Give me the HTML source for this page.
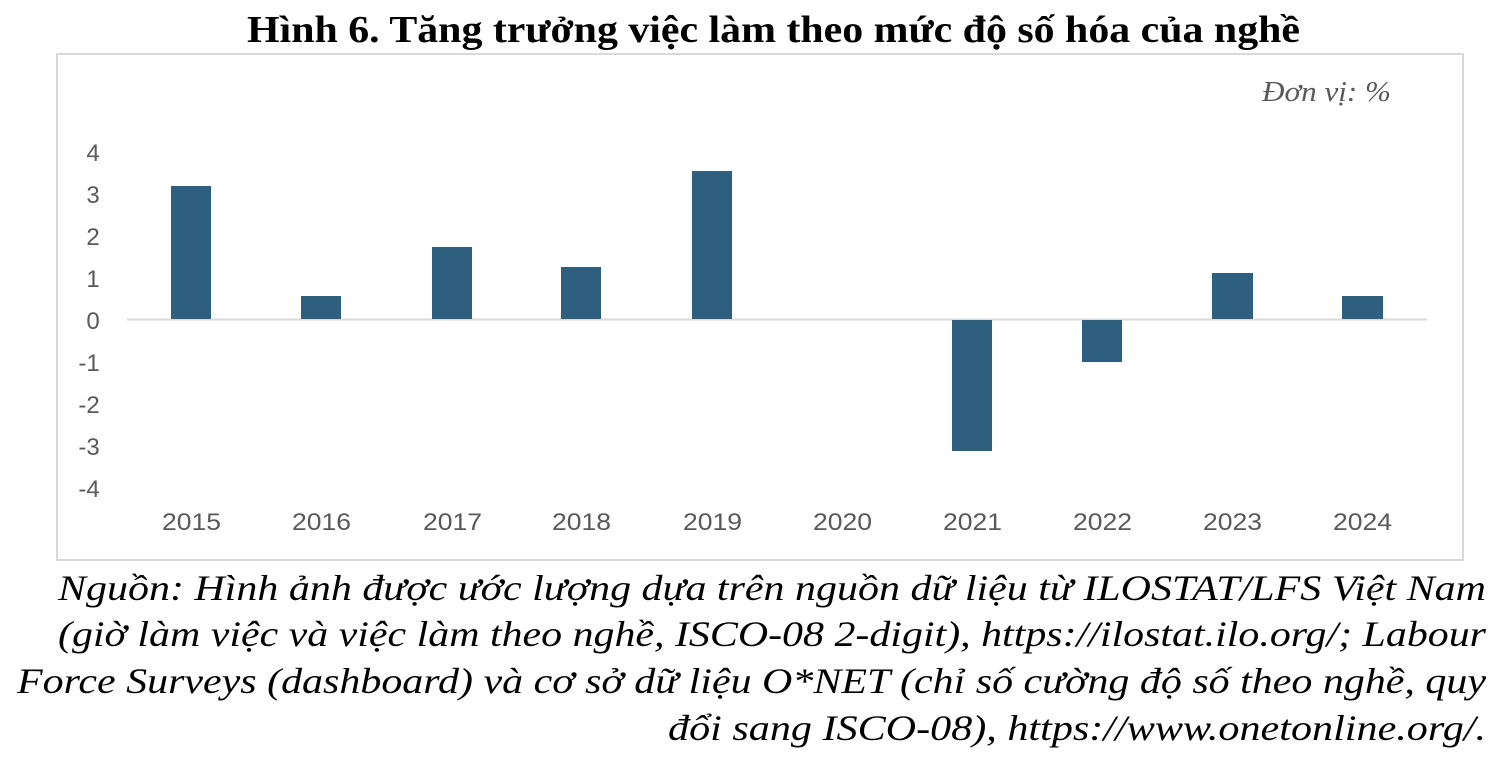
<!DOCTYPE html>
<html><head><meta charset="utf-8"><style>
html,body{margin:0;padding:0;background:#fff;width:1500px;height:759px;overflow:hidden}
</style></head><body>
<svg width="1500" height="759" xmlns="http://www.w3.org/2000/svg">
<text x="247" y="42" textLength="1053" lengthAdjust="spacingAndGlyphs" font-family="Liberation Serif, serif" font-weight="bold" font-size="38" fill="#000">Hình 6. Tăng trưởng việc làm theo mức độ số hóa của nghề</text>
<rect x="57" y="54" width="1406" height="506" fill="#fff" stroke="#d9d9d9" stroke-width="2"/>
<text x="1262" y="101" textLength="129" lengthAdjust="spacingAndGlyphs" font-family="Liberation Serif, serif" font-style="italic" font-size="29" fill="#595959">Đơn vị: %</text>
<g font-family="Liberation Sans, sans-serif" font-size="24" fill="#595959" text-anchor="middle">
<text x="93" y="161">4</text><text x="93" y="203">3</text><text x="93" y="245">2</text><text x="93" y="287">1</text><text x="93" y="329">0</text>
<text x="89" y="371">-1</text><text x="89" y="413">-2</text><text x="89" y="455">-3</text><text x="89" y="497">-4</text>
</g>
<g font-family="Liberation Sans, sans-serif" font-size="24" fill="#595959">
<text x="162" y="530" textLength="59" lengthAdjust="spacingAndGlyphs">2015</text>
<text x="292" y="530" textLength="59" lengthAdjust="spacingAndGlyphs">2016</text>
<text x="423" y="530" textLength="59" lengthAdjust="spacingAndGlyphs">2017</text>
<text x="552" y="530" textLength="59" lengthAdjust="spacingAndGlyphs">2018</text>
<text x="683" y="530" textLength="59" lengthAdjust="spacingAndGlyphs">2019</text>
<text x="813" y="530" textLength="59" lengthAdjust="spacingAndGlyphs">2020</text>
<text x="943" y="530" textLength="59" lengthAdjust="spacingAndGlyphs">2021</text>
<text x="1073" y="530" textLength="59" lengthAdjust="spacingAndGlyphs">2022</text>
<text x="1203" y="530" textLength="59" lengthAdjust="spacingAndGlyphs">2023</text>
<text x="1333" y="530" textLength="59" lengthAdjust="spacingAndGlyphs">2024</text>
</g>
<line x1="127" y1="319.5" x2="1427" y2="319.5" stroke="#d9d9d9" stroke-width="2"/>
<g fill="#2e5f7f">
<rect x="171" y="186" width="40" height="133"/>
<rect x="301" y="296" width="40" height="23"/>
<rect x="432" y="247" width="40" height="72"/>
<rect x="561" y="267" width="40" height="52"/>
<rect x="692" y="171" width="40" height="148"/>
<rect x="952" y="320" width="40" height="131"/>
<rect x="1082" y="320" width="40" height="42"/>
<rect x="1212" y="273" width="41" height="46"/>
<rect x="1342" y="296" width="41" height="23"/>
</g>
<g font-family="Liberation Serif, serif" font-style="italic" font-size="36" fill="#000">
<text x="58" y="600" textLength="1428" lengthAdjust="spacingAndGlyphs">Nguồn: Hình ảnh được ước lượng dựa trên nguồn dữ liệu từ ILOSTAT/LFS Việt Nam</text>
<text x="58" y="646" textLength="1428" lengthAdjust="spacingAndGlyphs">(giờ làm việc và việc làm theo nghề, ISCO-08 2-digit), https://ilostat.ilo.org/; Labour</text>
<text x="17" y="693" textLength="1469" lengthAdjust="spacingAndGlyphs">Force Surveys (dashboard) và cơ sở dữ liệu O*NET (chỉ số cường độ số theo nghề, quy</text>
<text x="668" y="740" textLength="818" lengthAdjust="spacingAndGlyphs">đổi sang ISCO-08), https://www.onetonline.org/.</text>
</g>
</svg>
</body></html>
